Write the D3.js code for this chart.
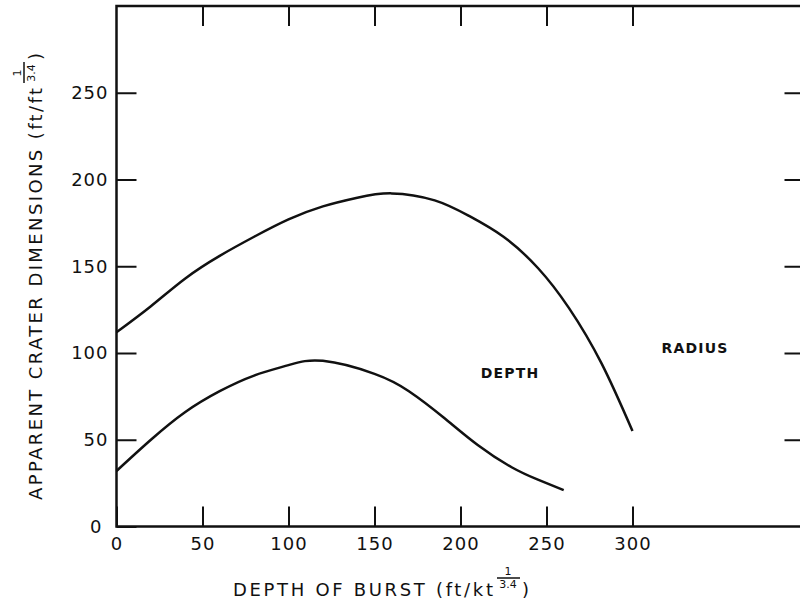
<!DOCTYPE html>
<html>
<head>
<meta charset="utf-8">
<script src="https://cdnjs.cloudflare.com/ajax/libs/d3/7.8.5/d3.min.js"></script>
<style>
  body { margin: 0; background: #fff; }
  svg text { font-family: "DejaVu Sans", sans-serif; fill: #111; }
</style>
</head>
<body>
<div id="chart"></div>
<script>
// values
let radiusX = [0, 20, 40, 60, 80, 100, 120, 140, 160, 185, 205, 225, 245, 263, 282, 300];
let radiusY = [112, 127, 143, 156, 167, 177, 184.5, 189.5, 192, 188, 179, 167, 149, 126, 94, 55];

let depthX = [0, 20, 40, 60, 80, 100, 120, 150, 170, 190, 210, 230, 245, 260];
let depthY = [32, 50, 66, 78, 87, 93, 95.5, 88, 78, 63, 47, 34, 27, 21];

let xTicks = [0, 50, 100, 150, 200, 250, 300];
let yTicks = [0, 50, 100, 150, 200, 250];

let chart_width  = 800;
let chart_height = 607;

let svg = d3.select('#chart')
            .append('svg')
            .attr('width', chart_width)
            .attr('height', chart_height);

let x_scale = d3.scaleLinear()
            .domain([0, 400])
            .range([116.5, 804.5]);

let y_scale = d3.scaleLinear()
            .domain([0, 300])
            .range([526.5, 6]);

//frame (right side runs off the page)
svg.append('rect')
  .attr('x', x_scale(0))
  .attr('y', y_scale(300))
  .attr('width', x_scale(400) - x_scale(0))
  .attr('height', y_scale(0) - y_scale(300))
  .attr('fill', 'none')
  .attr('stroke', '#111')
  .attr('stroke-width', 2.5);

//axes, ticks point inward
let x_axis = d3.axisBottom(x_scale)
            .tickValues(xTicks)
            .tickSize(-20)
            .tickPadding(11)
            .tickFormat(d3.format('d'));

let gx = svg.append('g')
  .attr('transform', 'translate(0,' + y_scale(0) + ')')
  .call(x_axis);

let y_axis = d3.axisLeft(y_scale)
            .tickValues(yTicks)
            .tickSize(-20)
            .tickPadding(8)
            .tickFormat(d3.format('d'));

let gy = svg.append('g')
  .attr('transform', 'translate(' + x_scale(0) + ',0)')
  .call(y_axis);

svg.append('g')
  .attr('transform', 'translate(0,' + y_scale(300) + ')')
  .call(d3.axisTop(x_scale).tickValues(xTicks.slice(1)).tickSize(-20).tickFormat(''));

svg.append('g')
  .attr('transform', 'translate(' + x_scale(400) + ',0)')
  .call(d3.axisRight(y_scale).tickValues(yTicks.slice(1)).tickSize(-20).tickFormat(''));

svg.selectAll('.domain').remove();
svg.selectAll('.tick line').attr('stroke', '#111').attr('stroke-width', 2);
svg.selectAll('.tick text')
  .attr('font-size', 18)
  .attr('letter-spacing', 1)
  .attr('fill', '#111');
gy.select('.tick text').attr('dx', -6);

//curves
let line = d3.line()
            .x(d => x_scale(d[0]))
            .y(d => y_scale(d[1]))
            .curve(d3.curveNatural);

svg.append('path')
  .datum(radiusX.map((v, i) => [v, radiusY[i]]))
  .attr('d', line)
  .attr('fill', 'none')
  .attr('stroke', '#111')
  .attr('stroke-width', 2.5);

svg.append('path')
  .datum(depthX.map((v, i) => [v, depthY[i]]))
  .attr('d', line)
  .attr('fill', 'none')
  .attr('stroke', '#111')
  .attr('stroke-width', 2.5);

//curve labels
svg.append('text')
  .attr('x', 510).attr('y', 378)
  .attr('text-anchor', 'middle')
  .attr('font-size', 14)
  .attr('font-weight', 'bold')
  .attr('letter-spacing', 1.2)
  .text('DEPTH');

svg.append('text')
  .attr('x', 695).attr('y', 353)
  .attr('text-anchor', 'middle')
  .attr('font-size', 14)
  .attr('font-weight', 'bold')
  .attr('letter-spacing', 1.2)
  .text('RADIUS');

//x axis title with the 1/3.4 exponent
let xt = svg.append('g');
xt.append('text')
  .attr('x', 233).attr('y', 596)
  .attr('font-size', 18)
  .attr('textLength', 260)
  .attr('lengthAdjust', 'spacing')
  .text('DEPTH OF BURST (ft/kt');
xt.append('text')
  .attr('x', 508).attr('y', 575)
  .attr('text-anchor', 'middle')
  .attr('font-size', 11)
  .text('1');
xt.append('line')
  .attr('x1', 497).attr('x2', 520)
  .attr('y1', 578).attr('y2', 578)
  .attr('stroke', '#111').attr('stroke-width', 1.5);
xt.append('text')
  .attr('x', 508).attr('y', 588)
  .attr('text-anchor', 'middle')
  .attr('font-size', 11)
  .text('3.4');
xt.append('text')
  .attr('x', 522).attr('y', 596)
  .attr('font-size', 18)
  .text(')');

//y axis title, rotated
let yt = svg.append('g')
  .attr('transform', 'translate(42,500) rotate(-90)');
yt.append('text')
  .attr('x', 0).attr('y', 0)
  .attr('font-size', 18)
  .attr('textLength', 412)
  .attr('lengthAdjust', 'spacing')
  .text('APPARENT CRATER DIMENSIONS (ft/ft');
yt.append('text')
  .attr('x', 427).attr('y', -21)
  .attr('text-anchor', 'middle')
  .attr('font-size', 11)
  .text('1');
yt.append('line')
  .attr('x1', 417).attr('x2', 438)
  .attr('y1', -18).attr('y2', -18)
  .attr('stroke', '#111').attr('stroke-width', 1.5);
yt.append('text')
  .attr('x', 427).attr('y', -7)
  .attr('text-anchor', 'middle')
  .attr('font-size', 11)
  .text('3.4');
yt.append('text')
  .attr('x', 440).attr('y', 0)
  .attr('font-size', 18)
  .text(')');
</script>
</body>
</html>
